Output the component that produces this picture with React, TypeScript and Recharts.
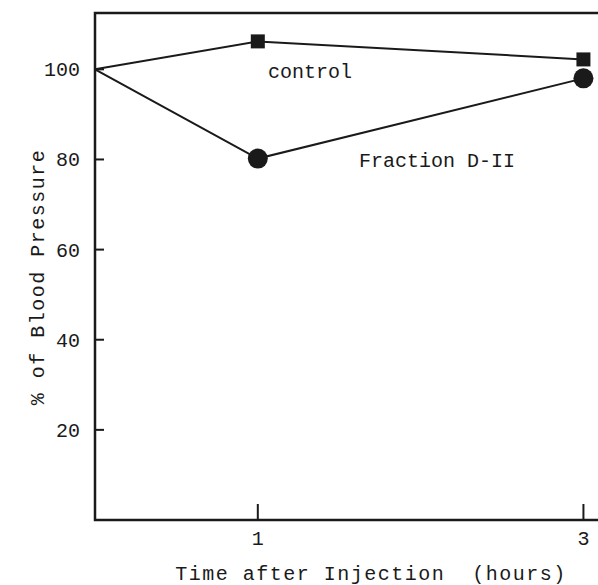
import React from 'react';
import {
  LineChart,
  Line,
  XAxis,
  YAxis,
  ReferenceArea,
  ReferenceDot,
} from 'recharts';

const hours = [0, 1, 3];
const control = [100, 106.2, 102.2];
const fractionD2 = [100, 80.2, 98];
const yTicks = [20, 40, 60, 80, 100];
const xTicks = [1, 3];

const data = hours.map((h, i) => ({ hours: h, control: control[i], fraction: fractionD2[i] }));

const INK = '#1a1a1a';
const FONT = '"Liberation Mono", "DejaVu Sans Mono", monospace';

const SquareDot = (props: any) => {
  const { cx, cy, index } = props;
  if (index === 0 || cx == null) return <g key={`s-${index}`} />;
  return <rect key={`s-${index}`} x={cx - 7} y={cy - 7} width={14} height={14} fill={INK} />;
};

const CircleDot = (props: any) => {
  const { cx, cy, index } = props;
  if (index === 0 || cx == null) return <g key={`c-${index}`} />;
  return <circle key={`c-${index}`} cx={cx} cy={cy} r={10} fill={INK} />;
};

const YTick = (props: any) => {
  const { x, y, payload } = props;
  return (
    <g>
      <line x1={x} y1={y} x2={x + 9} y2={y} stroke={INK} strokeWidth={2} />
      <text x={x - 15} y={y} dy="0.35em" textAnchor="end" fill={INK} fontFamily={FONT} fontSize={20}>
        {payload.value}
      </text>
    </g>
  );
};

const XTick = (props: any) => {
  const { x, y, payload } = props;
  return (
    <g>
      <line x1={x} y1={y} x2={x} y2={y - 16} stroke={INK} strokeWidth={2} />
      <text x={x} y={y + 25} textAnchor="middle" fill={INK} fontFamily={FONT} fontSize={20}>
        {payload.value}
      </text>
    </g>
  );
};

export default function App() {
  return (
    <div
      style={{
        position: 'fixed',
        left: 0,
        top: 0,
        width: 598,
        height: 585,
        overflow: 'hidden',
        background: '#fff',
      }}
    >
      <LineChart width={640} height={585} data={data} margin={{ top: 13, right: 24, left: 0, bottom: 0 }}>
        <XAxis
          dataKey="hours"
          type="number"
          domain={[0, 3.2]}
          ticks={xTicks}
          tick={<XTick />}
          tickLine={false}
          tickSize={0}
          tickMargin={0}
          axisLine={false}
          height={65}
          label={{
            content: () => (
              <text
                x={371}
                y={580}
                textAnchor="middle"
                fill={INK}
                fontFamily={FONT}
                fontSize={20}
                letterSpacing={1.5}
                style={{ whiteSpace: 'pre' }}
              >
                {'Time after Injection  (hours)'}
              </text>
            ),
          }}
        />
        <YAxis
          type="number"
          domain={[0, 112.5]}
          ticks={yTicks}
          tick={<YTick />}
          tickLine={false}
          tickSize={0}
          tickMargin={0}
          axisLine={false}
          width={95}
          label={{
            content: () => (
              <text
                x={38}
                y={277}
                textAnchor="middle"
                dominantBaseline="central"
                transform="rotate(-90 38 277)"
                fill={INK}
                fontFamily={FONT}
                fontSize={20}
                letterSpacing={1.5}
              >
                % of Blood Pressure
              </text>
            ),
          }}
        />
        <ReferenceArea
          x1={0}
          x2={3.2}
          y1={0}
          y2={112.5}
          fill="none"
          stroke={INK}
          strokeWidth={2.5}
          ifOverflow="visible"
        />
        <Line
          dataKey="control"
          stroke={INK}
          strokeWidth={2}
          dot={<SquareDot />}
          activeDot={false}
          isAnimationActive={false}
        />
        <Line
          dataKey="fraction"
          stroke={INK}
          strokeWidth={2}
          dot={<CircleDot />}
          activeDot={false}
          isAnimationActive={false}
        />
        <ReferenceDot
          x={1.32}
          y={99.6}
          r={0}
          fill="none"
          stroke="none"
          label={{ value: 'control', position: 'center', fill: INK, fontFamily: FONT, fontSize: 20 }}
        />
        <ReferenceDot
          x={2.1}
          y={79.9}
          r={0}
          fill="none"
          stroke="none"
          label={{ value: 'Fraction D-II', position: 'center', fill: INK, fontFamily: FONT, fontSize: 20 }}
        />
      </LineChart>
    </div>
  );
}
